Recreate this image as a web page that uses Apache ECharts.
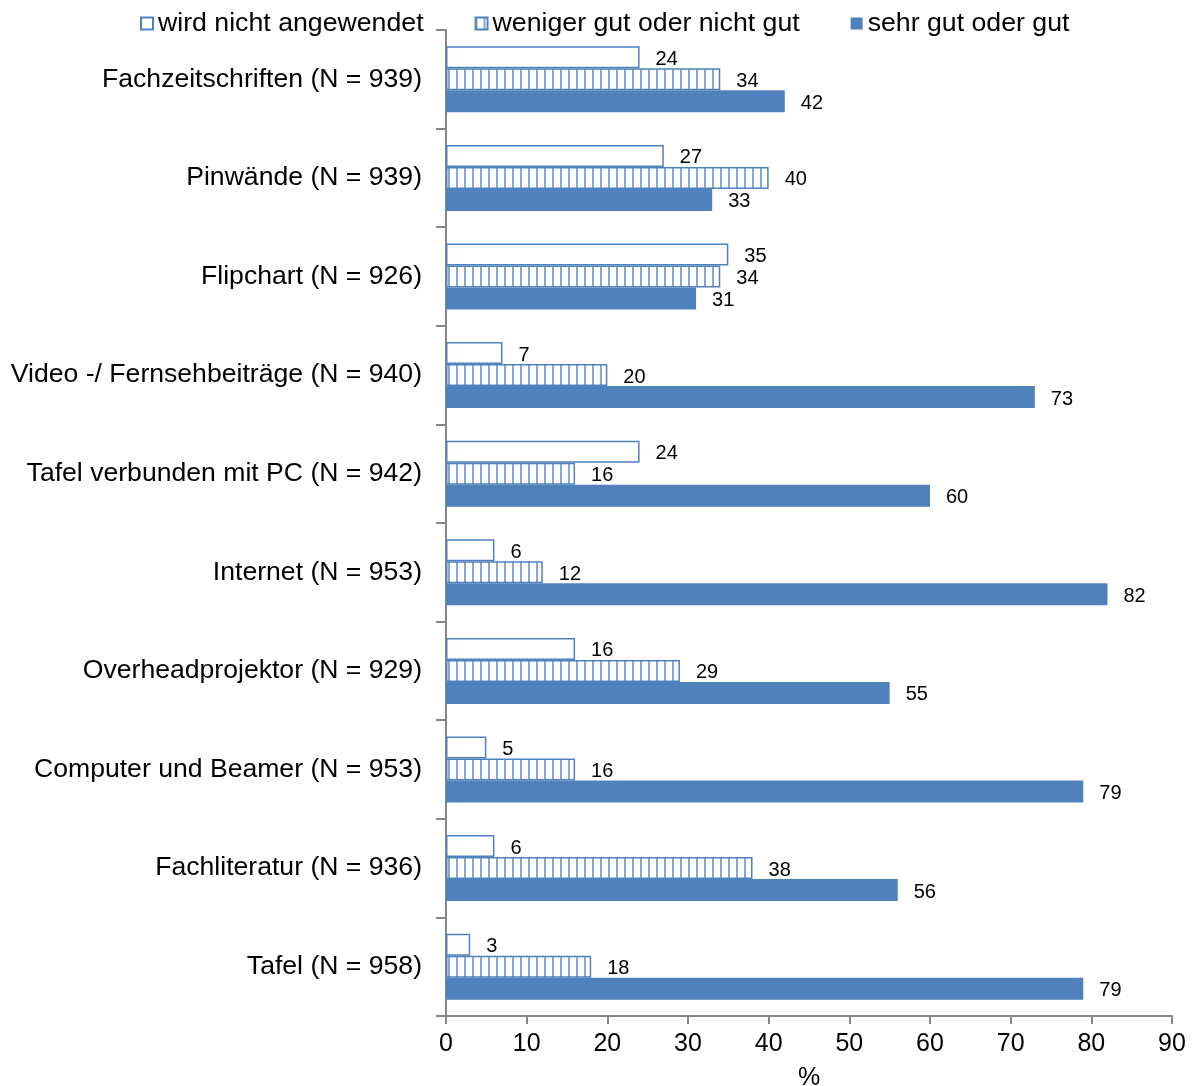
<!DOCTYPE html>
<html>
<head>
<meta charset="utf-8">
<script src="https://cdn.jsdelivr.net/npm/echarts@6/dist/echarts.min.js"></script>
<style>
  html, body { margin: 0; padding: 0; background: #fff; }
  #chart { width: 1196px; height: 1086px; }
</style>
</head>
<body>
<div id="chart"></div>
<script>
// Categories listed bottom to top (ECharts category y axis starts at the bottom)
const categories = [
  'Tafel (N = 958)',
  'Fachliteratur (N = 936)',
  'Computer und Beamer (N = 953)',
  'Overheadprojektor (N = 929)',
  'Internet (N = 953)',
  'Tafel verbunden mit PC (N = 942)',
  'Video -/ Fernsehbeiträge (N = 940)',
  'Flipchart (N = 926)',
  'Pinwände (N = 939)',
  'Fachzeitschriften (N = 939)'
];
const nichtAngewendet = [3, 6, 5, 16, 6, 24, 7, 35, 27, 24];
const wenigerGut = [18, 38, 16, 29, 12, 16, 20, 34, 40, 34];
const sehrGut = [79, 56, 79, 55, 82, 60, 73, 31, 33, 42];
const xTicks = [0, 10, 20, 30, 40, 50, 60, 70, 80, 90];

const BLUE = '#4F81BD';

// vertical stripe fill for the middle series
function stripePattern() {
  const c = document.createElement('canvas');
  c.width = 8; c.height = 8;
  const ctx = c.getContext('2d');
  ctx.fillStyle = '#ffffff';
  ctx.fillRect(0, 0, 8, 8);
  ctx.fillStyle = '#86A8D6';
  ctx.fillRect(0, 0, 2, 8);
  return c;
}

const font = 'Arial, "Liberation Sans", sans-serif';
const valueLabel = {
  show: true,
  position: 'right',
  distance: 16,
  offset: [0, 2],
  color: '#000',
  fontFamily: font,
  fontSize: 20
};

const chart = echarts.init(document.getElementById('chart'), null, { renderer: 'canvas' });
chart.setOption({
  animation: false,
  textStyle: { fontFamily: font },
  legend: {
    data: ['wird nicht angewendet', 'weniger gut oder nicht gut', 'sehr gut oder gut'],
    icon: 'rect',
    left: 140,
    top: 10,
    padding: 0,
    itemWidth: 12,
    itemHeight: 12,
    itemGap: 51,
    textStyle: { fontSize: 26.7, color: '#000', fontFamily: font }
  },
  grid: { left: 446, right: 24, top: 30, bottom: 70, containLabel: false, outerBoundsMode: 'none' },
  xAxis: {
    type: 'value',
    min: 0,
    max: 90,
    interval: 10,
    name: '%',
    nameLocation: 'middle',
    nameGap: 50,
    nameTextStyle: { fontSize: 25, color: '#000', fontFamily: font },
    axisLine: { show: true, lineStyle: { color: '#868686', width: 2 } },
    axisTick: { show: true, length: 8, lineStyle: { color: '#868686', width: 2 } },
    axisLabel: {
      fontSize: 25, color: '#000', margin: 16, fontFamily: font,
      formatter: v => (xTicks.includes(v) ? String(v) : '')
    },
    splitLine: { show: false }
  },
  yAxis: {
    type: 'category',
    data: categories,
    axisLine: { show: true, lineStyle: { color: '#868686', width: 2 } },
    axisTick: { show: true, length: 10, lineStyle: { color: '#868686', width: 2 } },
    axisLabel: { fontSize: 26.6, color: '#000', margin: 24, fontFamily: font }
  },
  series: [
    {
      name: 'wird nicht angewendet',
      type: 'bar',
      data: nichtAngewendet,
      barWidth: 22,
      barGap: '0%',
      itemStyle: { color: '#ffffff', borderColor: BLUE, borderWidth: 1.5 },
      label: valueLabel
    },
    {
      name: 'weniger gut oder nicht gut',
      type: 'bar',
      data: wenigerGut,
      barWidth: 22,
      barGap: '0%',
      itemStyle: {
        color: { image: stripePattern(), repeat: 'repeat' },
        borderColor: BLUE,
        borderWidth: 1.5
      },
      label: valueLabel
    },
    {
      name: 'sehr gut oder gut',
      type: 'bar',
      data: sehrGut,
      barWidth: 22,
      barGap: '0%',
      itemStyle: { color: BLUE },
      label: valueLabel
    }
  ]
});
</script>
</body>
</html>
